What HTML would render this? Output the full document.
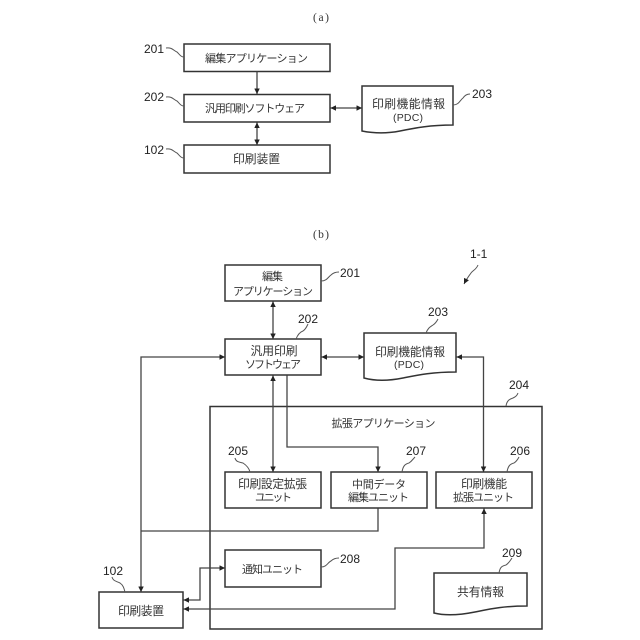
<!DOCTYPE html>
<html><head><meta charset="utf-8"><style>
html,body{margin:0;padding:0;background:#fff}
svg{display:block}
text{font-family:"Liberation Sans","Noto Sans CJK JP",sans-serif;font-size:11px;fill:#333;text-anchor:middle}
text.k{font-size:11.8px}
.n{font-size:12px;text-anchor:start;fill:#222}
.s{fill:none;stroke:#444;stroke-width:1.3}
.b{fill:#fff;stroke:#333;stroke-width:1.5}
.c{fill:none;stroke:#555;stroke-width:1}
</style></head><body>
<svg width="640" height="640" viewBox="0 0 640 640" xmlns="http://www.w3.org/2000/svg">
<defs>
<marker id="e" viewBox="0 0 6 6" refX="6" refY="3" markerWidth="6" markerHeight="5.5" orient="auto-start-reverse" markerUnits="userSpaceOnUse"><path d="M0 0L6 3L0 6Z" fill="#222"/></marker>
</defs>

<text x="321" y="21" textLength="16" style="font-family:'Liberation Serif',serif;font-size:11.5px">(a)</text>
<text x="321" y="238" textLength="16" style="font-family:'Liberation Serif',serif;font-size:11.5px">(b)</text>

<!-- (a) -->
<rect class="b" x="184" y="44" width="146" height="27.5"/>
<rect class="b" x="184" y="94.5" width="146" height="27.5"/>
<rect class="b" x="184" y="145" width="146" height="28"/>
<path class="b" d="M362 86H453V125C430 125 415 128 400 131C385 134 372 133 362 131Z"/>
<text x="256.5" y="62" textLength="103">編集アプリケーション</text>
<text x="255" y="112" textLength="100">汎用印刷ソフトウェア</text>
<text class="k" x="256.5" y="163" textLength="47">印刷装置</text>
<text class="k" x="408.5" y="108" textLength="73">印刷機能情報</text>
<text x="408" y="121" textLength="30" style="font-size:10.5px">(PDC)</text>
<path class="s" d="M257 71.5V94" marker-end="url(#e)"/>
<path class="s" d="M257 122.5V145" marker-start="url(#e)" marker-end="url(#e)"/>
<path class="s" d="M330.5 108H362" marker-start="url(#e)" marker-end="url(#e)"/>
<text class="n" x="144" y="53">201</text>
<text class="n" x="144" y="101">202</text>
<text class="n" x="144" y="154">102</text>
<text class="n" x="472" y="98">203</text>
<path class="c" d="M166 48C172 47 174 51 177 52C180 55 181 57 184 57"/>
<path class="c" d="M166 97C172 96 174 100 177 101C180 104 181 106 184 106"/>
<path class="c" d="M166 149C172 148 174 152 177 153C180 156 181 158 184 158"/>
<path class="c" d="M453 105C459 105 460 100 463 98C465 95 467 94 470 94"/>

<!-- (b) -->
<rect class="b" x="210" y="406.5" width="332" height="222.5"/>
<rect class="b" x="225" y="265" width="96" height="36"/>
<rect class="b" x="225" y="339" width="96" height="36"/>
<path class="b" d="M364 333H456V372C432 372 418 375 403 378C388 381 375 381 364 378Z"/>
<rect class="b" x="225" y="472" width="96" height="36"/>
<rect class="b" x="331" y="472" width="96" height="36"/>
<rect class="b" x="436" y="472" width="96" height="36"/>
<rect class="b" x="225" y="550" width="96" height="37"/>
<rect class="b" x="99" y="592" width="84" height="36"/>
<path class="b" d="M434 573H527V606C503 606 490 609 475 612C460 615 446 616 434 613Z"/>

<text x="272.5" y="280" textLength="21">編集</text>
<text x="273" y="295" textLength="80">アプリケーション</text>
<text class="k" x="274" y="355" textLength="47">汎用印刷</text>
<text x="273" y="368" textLength="56">ソフトウェア</text>
<text class="k" x="410" y="356" textLength="70">印刷機能情報</text>
<text x="409" y="368" textLength="30" style="font-size:10.5px">(PDC)</text>
<text x="383.5" y="427" textLength="104">拡張アプリケーション</text>
<text class="k" x="272.5" y="488" textLength="69">印刷設定拡張</text>
<text x="273.5" y="501" textLength="37">ユニット</text>
<text x="379" y="488" textLength="54">中間データ</text>
<text x="378.5" y="501" textLength="61">編集ユニット</text>
<text class="k" x="484" y="488" textLength="46">印刷機能</text>
<text x="483.5" y="501" textLength="61">拡張ユニット</text>
<text x="272.5" y="573" textLength="61">通知ユニット</text>
<text class="k" x="141" y="615" textLength="46">印刷装置</text>
<text class="k" x="480.5" y="596" textLength="47">共有情報</text>

<!-- connectors -->
<path class="s" d="M273 301.5V339" marker-start="url(#e)" marker-end="url(#e)"/>
<path class="s" d="M273 375.5V472" marker-start="url(#e)" marker-end="url(#e)"/>
<path class="s" d="M287 375.5V447H378V472" marker-end="url(#e)"/>
<path class="s" d="M321.5 357H364" marker-start="url(#e)" marker-end="url(#e)"/>
<path class="s" d="M456.5 357H483.5V472" marker-start="url(#e)" marker-end="url(#e)"/>
<path class="s" d="M225 357H141V592" marker-start="url(#e)" marker-end="url(#e)"/>
<path class="s" d="M378 508.5V531H141"/>
<path class="s" d="M183.5 600H200V568H225" marker-start="url(#e)" marker-end="url(#e)"/>
<path class="s" d="M183.5 609H395V548H484V508.5" marker-start="url(#e)" marker-end="url(#e)"/>

<!-- reference numbers -->
<text class="n" x="340" y="277">201</text>
<text class="n" x="298" y="323">202</text>
<text class="n" x="428" y="316">203</text>
<text class="n" x="509" y="389">204</text>
<text class="n" x="228" y="455">205</text>
<text class="n" x="510" y="455">206</text>
<text class="n" x="406" y="455">207</text>
<text class="n" x="340" y="563">208</text>
<text class="n" x="502" y="557">209</text>
<text class="n" x="103" y="575">102</text>
<text class="n" x="470" y="258">1-1</text>
<path class="c" d="M321 281C327 281 328 277 331 275C333 273 335 272 339 272"/>
<path class="c" d="M296 339C298 334 300 332 303 331C306 329 307 326 308 324"/>
<path class="c" d="M426 333C428 328 430 327 433 325C436 323 437 321 438 319"/>
<path class="c" d="M506 406C507 400 510 399 513 398C515 397 517 396 518 393"/>
<path class="c" d="M235 458C236 462 239 462 243 463C246 465 249 468 250 472"/>
<path class="c" d="M507 472C508 466 510 464 514 463C517 461 518 459 519 457"/>
<path class="c" d="M402 472C403 466 405 464 409 463C412 461 413 459 415 457"/>
<path class="c" d="M321 567C327 567 328 562 331 561C333 559 335 558 339 558"/>
<path class="c" d="M499 573C500 567 502 566 506 565C509 563 510 561 512 558"/>
<path class="c" d="M112 577C113 581 116 581 120 583C123 585 124 588 125 592"/>
<path class="c" d="M478 265C476 270 473 270 471 273C469 276 467 278 464 284" marker-end="url(#e)"/>
</svg>
</body></html>
